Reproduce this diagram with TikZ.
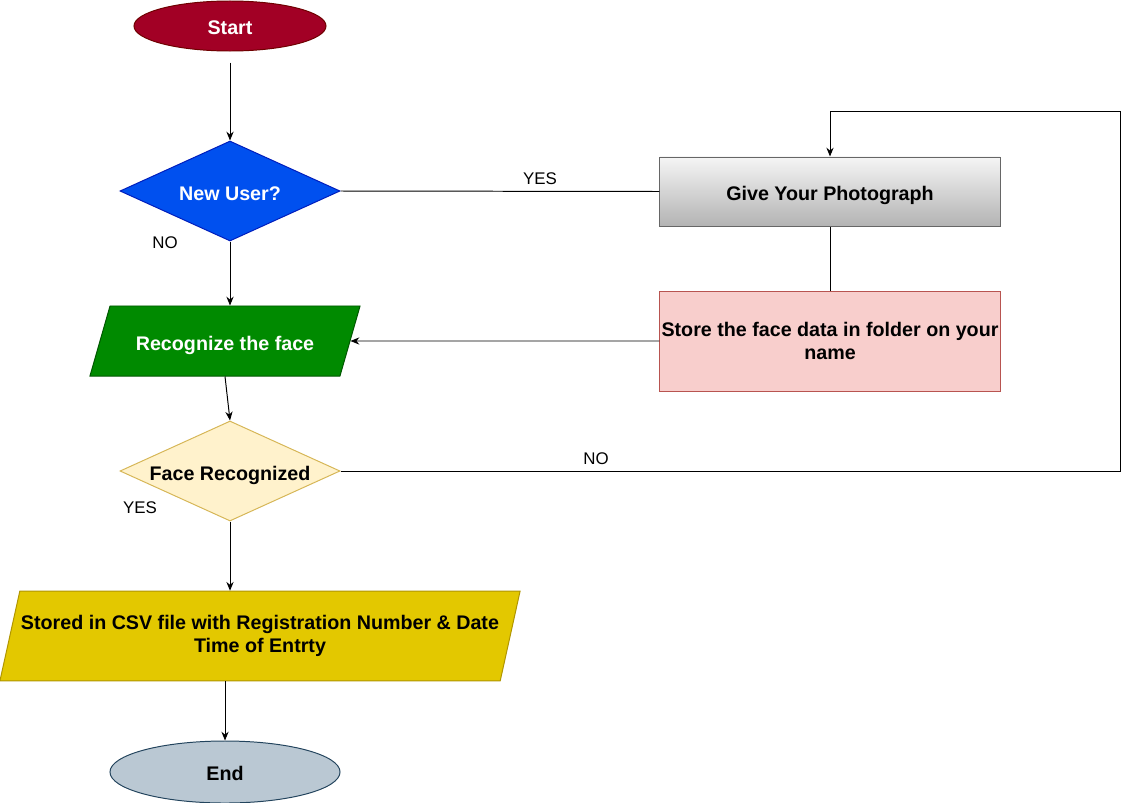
\documentclass[tikz,border=0pt]{standalone}
\usepackage{fontspec}
\setmainfont{Liberation Sans}
\usepackage{xcolor}
\definecolor{startred}{HTML}{A20025}
\definecolor{startdark}{HTML}{6F0000}
\definecolor{userblue}{HTML}{0050EF}
\definecolor{userdark}{HTML}{001DBC}
\definecolor{recgreen}{HTML}{008A00}
\definecolor{recdark}{HTML}{005700}
\definecolor{facecream}{HTML}{FFF2CC}
\definecolor{facegold}{HTML}{D6B656}
\definecolor{csvyellow}{HTML}{E3C800}
\definecolor{csvdark}{HTML}{B09500}
\definecolor{endgrey}{HTML}{BAC8D3}
\definecolor{enddark}{HTML}{23445D}
\definecolor{storepink}{HTML}{F8CECC}
\definecolor{storered}{HTML}{B85450}
\definecolor{photolight}{HTML}{F5F5F5}
\definecolor{photodark}{HTML}{B3B3B3}
\definecolor{photoline}{HTML}{666666}
\usetikzlibrary{arrows.meta,shapes.geometric}
\tikzset{
  oneline/.style={text height=0.5cm,text depth=0.05cm},
  term/.style={ellipse,draw,line width=0.7pt,inner sep=0pt,text height=0.42cm,text depth=0cm,align=center,font=\fontsize{14}{17}\selectfont\bfseries},
  decide/.style={diamond,draw,line width=0.7pt,aspect=2.2,inner sep=0pt,oneline,minimum width=5.5cm,minimum height=2.5cm,align=center,font=\fontsize{14}{17}\selectfont\bfseries},
  io/.style={trapezium,trapezium stretches body,draw,line width=0.7pt,inner xsep=0pt,align=center,font=\fontsize{14}{16.5}\selectfont\bfseries},
  proc/.style={rectangle,draw,line width=0.7pt,minimum width=8.5cm,inner sep=0pt,align=center,font=\fontsize{14}{16.5}\selectfont\bfseries},
  lab/.style={font=\fontsize{12}{14}\selectfont,inner sep=0pt},
  arr/.style={-{Stealth[length=2.2mm,width=1.8mm]},line width=0.7pt},
  line/.style={line width=0.7pt},
}

\begin{document}
\begin{tikzpicture}[x=0.025cm,y=-0.025cm]
  \useasboundingbox (0,0) rectangle (1122,802);
  % left column
  \node[term,fill=startred,draw=startdark,text=white,minimum width=4.8cm,minimum height=1.25cm] (start) at (230,26) {Start};
  \node[decide,fill=userblue,draw=userdark,text=white] (user) at (230,191) {New User?};
  \node[io,oneline,inner ysep=0.6cm,fill=recgreen,draw=recdark,text=white,trapezium left angle=74,trapezium right angle=106,minimum width=6.75cm] (rec) at (225,341) {Recognize the face};
  \node[decide,fill=facecream,draw=facegold] (face) at (230,471) {Face Recognized};
  \node[io,inner ysep=0.6cm,fill=csvyellow,draw=csvdark,trapezium left angle=77.5,trapezium right angle=102.5,minimum width=13cm] (csv) at (260,636) {Stored in CSV file with Registration Number \& Date\\Time of Entrty};
  \node[term,fill=endgrey,draw=enddark,minimum width=5.75cm,minimum height=1.55cm] (end) at (225,772) {End};
  % right column
  \node[proc,oneline,top color=photolight,bottom color=photodark,draw=photoline,minimum height=1.725cm] (photo) at (830,191.5) {Give Your Photograph};
  \node[proc,fill=storepink,draw=storered,minimum height=2.5cm] (store) at (830,341) {Store the face data in folder on your\\name};
  \coordinate (loop) at (1120,111);
  % labels
  \node[lab] (yesuser) at (540,179) {YES};
  \node[lab] (nouser) at (165,243) {NO};
  \node[lab] (noface) at (596,459) {NO};
  \node[lab] (yesface) at (140,508) {YES};
  % connectors
  \draw[arr,shorten <=0.275cm] (start) -- (user);
  \draw[line] (user.east) -- (photo.west);
  \draw[line] (photo.south) -- (store.north);
  \draw[arr] (store.west) -- (rec.east);
  \draw[arr] (user.south) -- (user.south |- rec.north);
  \draw[arr] (rec.south) -- (face.north);
  \draw[arr] (face.east) -| (loop) -| (photo.north);
  \draw[arr] (face.south) -- (face.south |- csv.north);
  \draw[arr] (end.north |- csv.south) -- (end.north);
\end{tikzpicture}
\end{document}
